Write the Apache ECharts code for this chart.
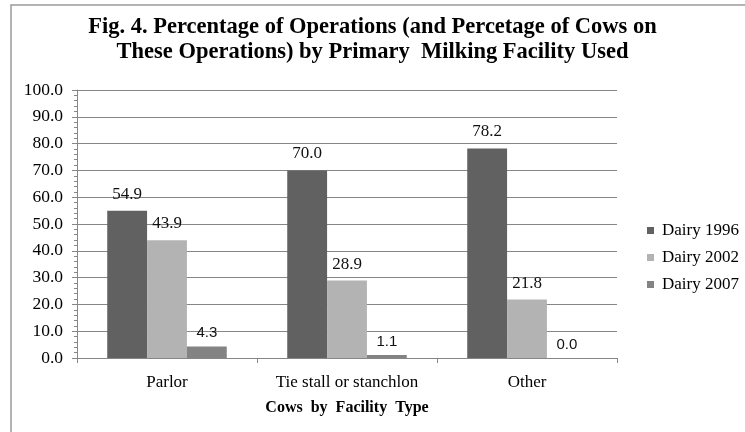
<!DOCTYPE html>
<html>
<head>
<meta charset="utf-8">
<script src="https://cdn.jsdelivr.net/npm/echarts@6/dist/echarts.min.js"></script>
<style>
  html, body { margin: 0; padding: 0; background: #fff; }
  #chart { width: 745px; height: 432px; }
</style>
</head>
<body>
<div id="chart"></div>
<script>
// Facility types on the category axis
const categories = ['Parlor', 'Tie stall or stanchlon', 'Other'];

// Percent of operations per survey year
const dairy1996 = [54.9, 70.0, 78.2];
const dairy2002 = [43.9, 28.9, 21.8];
const dairy2007 = [4.3, 1.1, 0.0];

const seriesNames = ['Dairy 1996', 'Dairy 2002', 'Dairy 2007'];

// Value axis range
const yMin = 0;
const yMax = 100;
const yStep = 10;

const titleLines = [
  'Fig. 4. Percentage of Operations (and Percetage of Cows on',
  'These Operations) by Primary  Milking Facility Used'
];
const xAxisTitle = 'Cows  by  Facility  Type';

const SERIF = '"Liberation Serif", "Times New Roman", serif';
const SANS = '"Liberation Sans", Arial, sans-serif';
const GRID_GREY = '#868686';

const chart = echarts.init(document.getElementById('chart'), null, { renderer: 'canvas' });

function barSeries(name, data, color, labelFont, labelSize, labelDist) {
  return {
    name: name,
    type: 'bar',
    data: data,
    barGap: '0%',
    barCategoryGap: '33.6%',
    itemStyle: { color: color },
    label: {
      show: true,
      position: 'top',
      distance: labelDist,
      fontFamily: labelFont,
      fontSize: labelSize,
      color: '#111',
      formatter: p => p.value.toFixed(1)
    }
  };
}

chart.setOption({
  backgroundColor: '#fff',
  animation: false,
  graphic: [{
    type: 'rect',
    shape: { x: 11, y: 5, width: 800, height: 500 },
    style: { fill: 'none', stroke: '#9a9a9a', lineWidth: 1.5 },
    silent: true
  }],
  title: {
    text: titleLines.join('\n'),
    left: 'center',
    top: 10,
    textStyle: {
      fontFamily: SERIF,
      fontWeight: 'bold',
      fontSize: 22.5,
      lineHeight: 25,
      color: '#000'
    }
  },
  legend: {
    orient: 'vertical',
    left: 642,
    top: 212,
    itemWidth: 7,
    itemHeight: 7,
    itemGap: 0,
    icon: 'rect',
    data: seriesNames,
    textStyle: {
      fontFamily: SERIF,
      fontSize: 17,
      lineHeight: 27,
      color: '#000',
      padding: [0, 0, 0, 3]
    }
  },
  grid: {
    left: 77,
    right: 128,
    top: 90,
    bottom: 74,
    containLabel: false
  },
  xAxis: {
    type: 'category',
    data: categories,
    axisLine: { lineStyle: { color: GRID_GREY, width: 1 } },
    axisTick: { show: true, inside: false, length: 5, alignWithLabel: false, lineStyle: { color: GRID_GREY } },
    axisLabel: {
      interval: 0,
      fontFamily: SERIF,
      fontSize: 17,
      color: '#000',
      margin: 16
    },
    name: xAxisTitle,
    nameLocation: 'middle',
    nameGap: 42,
    nameTextStyle: {
      fontFamily: SERIF,
      fontWeight: 'bold',
      fontSize: 16,
      color: '#000'
    }
  },
  yAxis: {
    type: 'value',
    min: yMin,
    max: yMax,
    interval: yStep,
    axisLine: { show: true, lineStyle: { color: GRID_GREY, width: 1 } },
    axisTick: { show: true, inside: false, length: 5, lineStyle: { color: GRID_GREY } },
    minorTick: { show: true, splitNumber: 5, length: 3, lineStyle: { color: GRID_GREY } },
    splitLine: { show: true, lineStyle: { color: GRID_GREY, width: 1 } },
    axisLabel: {
      fontFamily: SERIF,
      fontSize: 17.5,
      color: '#000',
      margin: 14,
      formatter: v => v.toFixed(1)
    }
  },
  series: [
    barSeries(seriesNames[0], dairy1996, '#616161', SERIF, 17, 8),
    barSeries(seriesNames[1], dairy2002, '#b3b3b3', SERIF, 17, 8),
    barSeries(seriesNames[2], dairy2007, '#838383', SANS, 15, 6)
  ]
});
</script>
</body>
</html>
